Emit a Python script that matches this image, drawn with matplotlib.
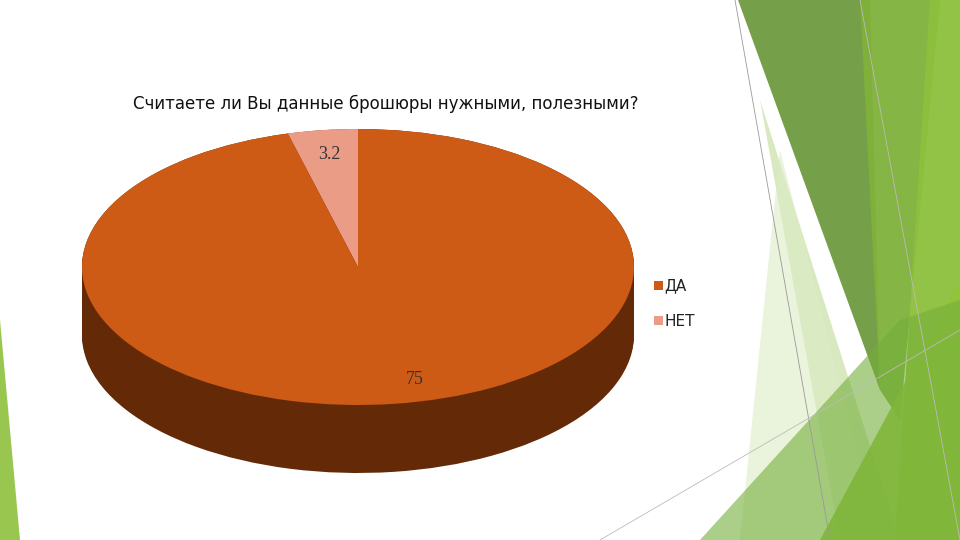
import matplotlib
matplotlib.use("Agg")
import matplotlib.pyplot as plt
from matplotlib.patches import Polygon, Rectangle
import numpy as np

title = "Считаете ли Вы данные брошюры нужными, полезными?"
categories = ["ДА", "НЕТ"]
values = [75, 3.2]
top_colors = ["#CD5A15", "#EB9C87"]
side_colors = ["#642A08", "#8A4A3A"]

fig = plt.figure(figsize=(9.6, 5.4), dpi=100)
bg = fig.add_axes([0, 0, 1, 1])
bg.set_xlim(0, 960); bg.set_ylim(540, 0); bg.axis("off")
shapes = [
    ([(738, 0), (870, 0), (880, 390)], "#6E9A3E", 0.95),
    ([(860, 0), (940, 0), (900, 420), (880, 390)], "#7FB13A", 0.95),
    ([(930, 0), (960, 0), (960, 540), (895, 540)], "#8DC03C", 0.95),
    ([(760, 100), (900, 540), (840, 540)], "#C9E1A5", 0.7),
    ([(780, 150), (880, 540), (740, 540)], "#DCEBC6", 0.6),
    ([(960, 280), (960, 540), (820, 540)], "#92C33A", 0.9),
    ([(900, 320), (960, 300), (960, 540), (700, 540)], "#74AE3A", 0.6),
    ([(0, 320), (20, 540), (0, 540)], "#8DC03C", 0.9),
]
for pts, c, a in shapes:
    bg.add_patch(Polygon(pts, closed=True, color=c, alpha=a, lw=0))
bg.plot([735, 830], [0, 540], color="#999999", lw=0.6)
bg.plot([860, 960], [0, 540], color="#bbbbbb", lw=0.6)
bg.plot([600, 960], [540, 330], color="#bbbbbb", lw=0.6)

cx, cy, rx, ry, depth = 358, 267, 276, 138, 68
ax = fig.add_axes([0, 0, 1, 1])
ax.set_facecolor("none")
order_vals = [values[1], values[0]]
order_top = [top_colors[1], top_colors[0]]
order_side = [side_colors[1], side_colors[0]]
d = depth / ry
for off in np.linspace(d, 0, 40):
    ax.pie(order_vals, colors=order_side, startangle=90, counterclock=True,
           center=(0, -off), radius=1, wedgeprops=dict(lw=0))
wedges, texts, autotexts = ax.pie(
    order_vals, colors=order_top, startangle=90, counterclock=True,
    center=(0, 0), radius=1, wedgeprops=dict(lw=0),
    autopct=lambda p: f"{p*sum(values)/100:g}", pctdistance=0.82,
    textprops=dict(family="Liberation Serif", fontsize=13, color="#333333"))
x, y = autotexts[1].get_position()
autotexts[1].set_position((x + 28 / rx, y))
ax.set_aspect("auto")
ax.set_xlim(-cx / rx, (960 - cx) / rx)
ax.set_ylim((cy - 540) / ry, cy / ry)
ax.axis("off")

fig.text(386 / 960, 1 - 104 / 540, title, ha="center", va="center",
         fontsize=12, color="#111111")
for i, (cat, col) in enumerate(zip(categories, top_colors)):
    y = 286 + 35 * i
    bg.add_patch(Rectangle((654, y - 5), 9, 9, color=col, lw=0))
    bg.text(664, y, cat, va="center", fontsize=11, color="#222222")

fig.savefig("out.png", dpi=100)
